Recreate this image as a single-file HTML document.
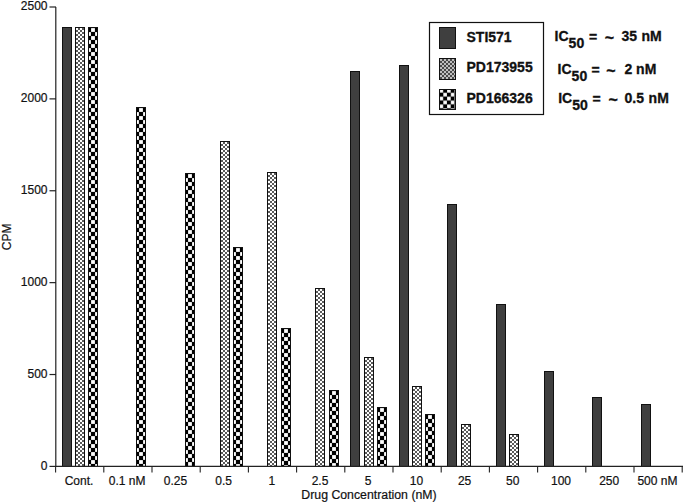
<!DOCTYPE html>
<html><head><meta charset="utf-8"><style>
html,body{margin:0;padding:0;background:#fff;}
body{width:685px;height:503px;overflow:hidden;}
svg{display:block;}
text{font-family:"Liberation Sans",sans-serif;fill:#111;}
.t{font-size:12px;stroke:#111;stroke-width:0.2px;}
.b{font-weight:bold;font-size:14px;stroke:#111;stroke-width:0.3px;}
</style></head><body>
<svg width="685" height="503" viewBox="0 0 685 503">
<defs>
<pattern id="pg" x="1" y="1" width="4" height="4" patternUnits="userSpaceOnUse">
<rect width="4" height="4" fill="#5a5a5a"/><rect width="2" height="2" fill="#fff"/><rect x="2" y="2" width="2" height="2" fill="#fff"/>
</pattern>
<pattern id="pc" x="3" y="1" width="8" height="8" patternUnits="userSpaceOnUse">
<rect width="8" height="8" fill="#000"/><rect x="0.1" y="0.1" width="3.8" height="3.8" fill="#fff"/><rect x="4.1" y="4.1" width="3.8" height="3.8" fill="#fff"/>
</pattern>
<pattern id="pgl" x="1" y="1" width="4" height="4" patternUnits="userSpaceOnUse">
<rect width="4" height="4" fill="#4a4a4a"/><rect x="0.2" y="0.2" width="1.6" height="1.6" fill="#fff"/><rect x="2.2" y="2.2" width="1.6" height="1.6" fill="#fff"/>
</pattern>
<pattern id="pcl" x="0.5" y="-0.2" width="7.5" height="7.8" patternUnits="userSpaceOnUse">
<rect width="7.5" height="7.8" fill="#000"/><rect x="0.1" y="0.1" width="3.55" height="3.7" fill="#fff"/><rect x="3.85" y="4" width="3.55" height="3.7" fill="#fff"/>
</pattern>
</defs>

<g transform="translate(62,27)"><rect width="10" height="440" fill="#111"/><rect x="1" y="1" width="8" height="438" fill="#3f3f3f"/></g>
<g transform="translate(75,27)"><rect width="10" height="440" fill="#111"/><rect x="1" y="1" width="8" height="438" fill="url(#pg)"/></g>
<g transform="translate(88,27)"><rect width="10" height="440" fill="#111"/><rect x="1" y="1" width="8" height="438" fill="url(#pc)"/></g>
<g transform="translate(136,107)"><rect width="10" height="360" fill="#111"/><rect x="1" y="1" width="8" height="358" fill="url(#pc)"/></g>
<g transform="translate(185,173)"><rect width="10" height="294" fill="#111"/><rect x="1" y="1" width="8" height="292" fill="url(#pc)"/></g>
<g transform="translate(220,141)"><rect width="10" height="326" fill="#111"/><rect x="1" y="1" width="8" height="324" fill="url(#pg)"/></g>
<g transform="translate(233,247)"><rect width="10" height="220" fill="#111"/><rect x="1" y="1" width="8" height="218" fill="url(#pc)"/></g>
<g transform="translate(267,172)"><rect width="10" height="295" fill="#111"/><rect x="1" y="1" width="8" height="293" fill="url(#pg)"/></g>
<g transform="translate(281,328)"><rect width="10" height="139" fill="#111"/><rect x="1" y="1" width="8" height="137" fill="url(#pc)"/></g>
<g transform="translate(315,288)"><rect width="10" height="179" fill="#111"/><rect x="1" y="1" width="8" height="177" fill="url(#pg)"/></g>
<g transform="translate(329,390)"><rect width="10" height="77" fill="#111"/><rect x="1" y="1" width="8" height="75" fill="url(#pc)"/></g>
<g transform="translate(350,71)"><rect width="10" height="396" fill="#111"/><rect x="1" y="1" width="8" height="394" fill="#3f3f3f"/></g>
<g transform="translate(364,357)"><rect width="10" height="110" fill="#111"/><rect x="1" y="1" width="8" height="108" fill="url(#pg)"/></g>
<g transform="translate(377,407)"><rect width="10" height="60" fill="#111"/><rect x="1" y="1" width="8" height="58" fill="url(#pc)"/></g>
<g transform="translate(399,65)"><rect width="10" height="402" fill="#111"/><rect x="1" y="1" width="8" height="400" fill="#3f3f3f"/></g>
<g transform="translate(412,386)"><rect width="10" height="81" fill="#111"/><rect x="1" y="1" width="8" height="79" fill="url(#pg)"/></g>
<g transform="translate(425,414)"><rect width="10" height="53" fill="#111"/><rect x="1" y="1" width="8" height="51" fill="url(#pc)"/></g>
<g transform="translate(447,204)"><rect width="10" height="263" fill="#111"/><rect x="1" y="1" width="8" height="261" fill="#3f3f3f"/></g>
<g transform="translate(461,424)"><rect width="10" height="43" fill="#111"/><rect x="1" y="1" width="8" height="41" fill="url(#pg)"/></g>
<g transform="translate(496,304)"><rect width="10" height="163" fill="#111"/><rect x="1" y="1" width="8" height="161" fill="#3f3f3f"/></g>
<g transform="translate(509,434)"><rect width="10" height="33" fill="#111"/><rect x="1" y="1" width="8" height="31" fill="url(#pg)"/></g>
<g transform="translate(544,371)"><rect width="10" height="96" fill="#111"/><rect x="1" y="1" width="8" height="94" fill="#3f3f3f"/></g>
<g transform="translate(592,397)"><rect width="10" height="70" fill="#111"/><rect x="1" y="1" width="8" height="68" fill="#3f3f3f"/></g>
<g transform="translate(641,404)"><rect width="10" height="63" fill="#111"/><rect x="1" y="1" width="8" height="61" fill="#3f3f3f"/></g>
<path d="M55.8 7.0 V466.4 H683" fill="none" stroke="#222" stroke-width="1.2"/>
<path d="M49.5 466.40 H56" stroke="#222" stroke-width="1.2"/>
<text class="t" x="47.5" y="469.80" text-anchor="end">0</text>
<path d="M49.5 374.52 H56" stroke="#222" stroke-width="1.2"/>
<text class="t" x="47.5" y="377.92" text-anchor="end">500</text>
<path d="M49.5 282.64 H56" stroke="#222" stroke-width="1.2"/>
<text class="t" x="47.5" y="286.04" text-anchor="end">1000</text>
<path d="M49.5 190.76 H56" stroke="#222" stroke-width="1.2"/>
<text class="t" x="47.5" y="194.16" text-anchor="end">1500</text>
<path d="M49.5 98.88 H56" stroke="#222" stroke-width="1.2"/>
<text class="t" x="47.5" y="102.28" text-anchor="end">2000</text>
<path d="M49.5 7.00 H56" stroke="#222" stroke-width="1.2"/>
<text class="t" x="47.5" y="10.40" text-anchor="end">2500</text>
<path d="M55.60 466.4 V472.5" stroke="#222" stroke-width="1.1"/>
<path d="M103.80 466.4 V472.5" stroke="#222" stroke-width="1.1"/>
<path d="M152.00 466.4 V472.5" stroke="#222" stroke-width="1.1"/>
<path d="M200.20 466.4 V472.5" stroke="#222" stroke-width="1.1"/>
<path d="M248.40 466.4 V472.5" stroke="#222" stroke-width="1.1"/>
<path d="M296.60 466.4 V472.5" stroke="#222" stroke-width="1.1"/>
<path d="M344.80 466.4 V472.5" stroke="#222" stroke-width="1.1"/>
<path d="M393.00 466.4 V472.5" stroke="#222" stroke-width="1.1"/>
<path d="M441.20 466.4 V472.5" stroke="#222" stroke-width="1.1"/>
<path d="M489.40 466.4 V472.5" stroke="#222" stroke-width="1.1"/>
<path d="M537.60 466.4 V472.5" stroke="#222" stroke-width="1.1"/>
<path d="M585.80 466.4 V472.5" stroke="#222" stroke-width="1.1"/>
<path d="M634.00 466.4 V472.5" stroke="#222" stroke-width="1.1"/>
<path d="M682.20 466.4 V472.5" stroke="#222" stroke-width="1.1"/>
<text class="t" x="79.00" y="484.5" text-anchor="middle">Cont.</text>
<text class="t" x="127.20" y="484.5" text-anchor="middle">0.1 nM</text>
<text class="t" x="175.40" y="484.5" text-anchor="middle">0.25</text>
<text class="t" x="223.60" y="484.5" text-anchor="middle">0.5</text>
<text class="t" x="271.80" y="484.5" text-anchor="middle">1</text>
<text class="t" x="320.00" y="484.5" text-anchor="middle">2.5</text>
<text class="t" x="368.20" y="484.5" text-anchor="middle">5</text>
<text class="t" x="416.40" y="484.5" text-anchor="middle">10</text>
<text class="t" x="464.60" y="484.5" text-anchor="middle">25</text>
<text class="t" x="512.80" y="484.5" text-anchor="middle">50</text>
<text class="t" x="561.00" y="484.5" text-anchor="middle">100</text>
<text class="t" x="609.20" y="484.5" text-anchor="middle">250</text>
<text class="t" x="657.40" y="484.5" text-anchor="middle">500 nM</text>
<text class="t" x="369" y="499.3" text-anchor="middle" style="font-size:12.3px">Drug Concentration (nM)</text>
<text class="t" transform="translate(11.1,236.9) rotate(-90)" text-anchor="middle" style="font-size:12px">CPM</text>
<rect x="429.5" y="22.5" width="114" height="92" fill="#fff" stroke="#111" stroke-width="1.2"/>
<rect x="439.5" y="27.5" width="16" height="21" fill="#3f3f3f" stroke="#111" stroke-width="1"/>
<g transform="translate(439,58)"><rect x="0.5" y="0.5" width="16" height="21" fill="url(#pgl)" stroke="#111" stroke-width="1"/></g>
<g transform="translate(439,89)"><rect x="0.5" y="0.5" width="16" height="20" fill="url(#pcl)" stroke="#111" stroke-width="1"/></g>
<text class="b" x="466.5" y="41.8">STI571</text>
<text class="b" x="466.5" y="72.2">PD173955</text>
<text class="b" x="466.5" y="103.2">PD166326</text>
<text class="b" x="554.5" y="41">IC</text><text class="b" x="568.60" y="48.40">50</text><text class="b" x="589" y="42.30">=</text><text class="b" x="604.8" y="43.30" style="font-size:16px">~</text><text class="b" x="621.5" y="41.00">35</text><text class="b" x="641.5" y="41.00">nM</text>
<text class="b" x="557.5" y="73.5">IC</text><text class="b" x="571.60" y="80.90">50</text><text class="b" x="591.5" y="74.80">=</text><text class="b" x="606.3" y="75.80" style="font-size:16px">~</text><text class="b" x="624.4" y="73.50">2</text><text class="b" x="636.1" y="73.50">nM</text>
<text class="b" x="558.2" y="102.6">IC</text><text class="b" x="572.30" y="110.00">50</text><text class="b" x="592.4" y="103.90">=</text><text class="b" x="608.6" y="104.90" style="font-size:16px">~</text><text class="b" x="624.5" y="102.60">0.5</text><text class="b" x="648.6" y="102.60">nM</text>
</svg></body></html>
